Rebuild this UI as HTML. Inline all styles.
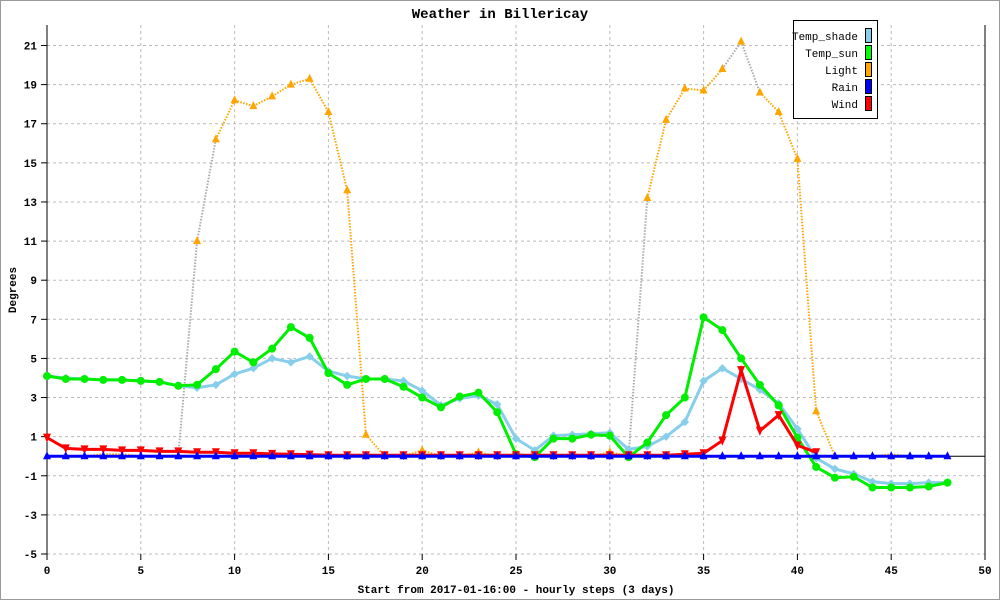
<!DOCTYPE html>
<html><head><meta charset="utf-8"><style>
body{margin:0;background:#fff}
svg{display:block;font-family:"Liberation Mono",monospace}
</style></head><body>
<svg id="chart" width="1000" height="600" viewBox="0 0 1000 600">
<rect x="0.5" y="0.5" width="999" height="599" fill="#fff" stroke="#999"/>
<text x="500" y="18" text-anchor="middle" font-size="14" font-weight="bold">Weather in Billericay</text>
<g id="grid"></g>
<g id="axes"></g>
<g id="series"></g>
<text x="16" y="290" transform="rotate(-90 16 290)" text-anchor="middle" font-size="11" font-weight="bold">Degrees</text>
<text x="516" y="593" text-anchor="middle" font-size="11" font-weight="bold">Start from 2017-01-16:00 - hourly steps (3 days)</text>
<g>
<rect x="793.5" y="20.5" width="84" height="98" fill="#fff" stroke="#000"/>
<g font-size="11" text-anchor="end">
<text x="858" y="40">Temp_shade</text>
<text x="858" y="57">Temp_sun</text>
<text x="858" y="74">Light</text>
<text x="858" y="91">Rain</text>
<text x="858" y="108">Wind</text>
</g>
<rect x="865.5" y="28.5" width="6" height="14" fill="#87ceeb" stroke="#000"/>
<rect x="865.5" y="45.5" width="6" height="14" fill="#00ff00" stroke="#000"/>
<rect x="865.5" y="62.5" width="6" height="14" fill="#ffa500" stroke="#000"/>
<rect x="865.5" y="79.5" width="6" height="14" fill="#0000ff" stroke="#000"/>
<rect x="865.5" y="96.5" width="6" height="14" fill="#ff0000" stroke="#000"/>
</g>
</svg>
<script>
const xTicks=[0,5,10,15,20,25,30,35,40,45,50];
const yTicks=[-5,-3,-1,1,3,5,7,9,11,13,15,17,19,21];
const light=[0,0,0,0.1,0.1,0,0,0.05,11,16.2,18.2,17.9,18.4,19,19.3,17.6,13.6,1.1,0,0,0.3,0,0,0.2,0,0,0,0,0,0,0.2,0,13.2,17.2,18.8,18.7,19.8,21.2,18.6,17.6,15.2,2.3,0,0,0,0.1,0,0,0];
const tempShade=[4.1,4.0,3.95,3.9,3.9,3.85,3.8,3.6,3.5,3.65,4.2,4.5,5.0,4.8,5.1,4.35,4.1,3.95,3.95,3.85,3.35,2.6,2.95,3.1,2.65,0.9,0.3,1.05,1.1,1.15,1.2,0.35,0.5,1.0,1.75,3.85,4.5,3.95,3.4,2.7,1.4,-0.1,-0.65,-0.9,-1.3,-1.4,-1.4,-1.35,-1.35];
const tempSun=[4.1,3.95,3.95,3.9,3.9,3.85,3.8,3.6,3.65,4.45,5.35,4.8,5.5,6.6,6.05,4.25,3.65,3.95,3.95,3.55,3.0,2.5,3.05,3.25,2.25,0.1,-0.05,0.9,0.9,1.1,1.05,-0.05,0.7,2.1,3.0,7.1,6.45,5.0,3.65,2.6,0.95,-0.55,-1.1,-1.05,-1.6,-1.6,-1.6,-1.55,-1.35];
const rain=[0,0,0,0,0,0,0,0,0,0,0,0,0,0,0,0,0,0,0,0,0,0,0,0,0,0,0,0,0,0,0,0,0,0,0,0,0,0,0,0,0,0,0,0,0,0,0,0,0];
const wind=[0.95,0.4,0.35,0.35,0.3,0.3,0.25,0.25,0.2,0.2,0.15,0.15,0.12,0.1,0.08,0.05,0.05,0.05,0.05,0.05,0.05,0.05,0.05,0.05,0.05,0.05,0.05,0.05,0.05,0.05,0.05,0.05,0.05,0.05,0.1,0.15,0.8,4.4,1.3,2.1,0.55,0.2];
const X0=47,X1=985,Y0=554,Y1=45.5,XMIN=0,XMAX=50,YMIN=-5,YMAX=21;
const sx=v=>X0+(v-XMIN)/(XMAX-XMIN)*(X1-X0);
const sy=v=>Y0-(v-YMIN)/(YMAX-YMIN)*(Y0-Y1);
const NS="http://www.w3.org/2000/svg";
function mk(tag,parent,attrs){const e=document.createElementNS(NS,tag);for(const k in attrs)e.setAttribute(k,attrs[k]);parent.appendChild(e);return e;}
const grid=document.getElementById('grid'),axes=document.getElementById('axes'),ser=document.getElementById('series');
xTicks.forEach(t=>{
  if(t>0&&t<50){const g=mk('line',grid,{x1:sx(t),x2:sx(t),y1:25,y2:560,stroke:'#bbb','stroke-dasharray':'3,3'});
  
  }
  const tk=mk('line',axes,{x1:sx(t),x2:sx(t),y1:554,y2:560,stroke:'#000'});
  
  
  const l=mk('text',axes,{x:sx(t),y:574,'text-anchor':'middle','font-size':'11','font-weight':'bold'});l.textContent=t;
  
  
});
yTicks.forEach(t=>{
  const g=mk('line',grid,{x1:X0,x2:X1,y1:sy(t),y2:sy(t),stroke:'#bbb','stroke-dasharray':'3,3'});
  
  
  const tk=mk('line',axes,{x1:41,x2:47,y1:sy(t),y2:sy(t),stroke:'#000'});
  
  
  const l=mk('text',axes,{x:37,y:sy(t)+4,'text-anchor':'end','font-size':'11','font-weight':'bold'});l.textContent=t;
  
  
});
const al=mk('line',axes,{x1:X0,x2:X0,y1:25,y2:560,stroke:'#000'});


const ar=mk('line',axes,{x1:X1,x2:X1,y1:25,y2:560,stroke:'#000'});


const zl=mk('line',axes,{x1:X0,x2:X1,y1:sy(0),y2:sy(0),stroke:'#000'});


// light
const graySeg=[7,8,31,36,37];
for(let i=0;i<light.length-1;i++){
  const s=mk('line',ser,{x1:sx(i),y1:sy(light[i]),x2:sx(i+1),y2:sy(light[i+1]),stroke:graySeg.includes(i)?'#aaa':'#ffa500','stroke-width':2,'stroke-dasharray':'1.5,1.5'});
  
  
}
light.forEach((v,i)=>{if(v>0.15){const x=sx(i),y=sy(v);
  const m=mk('polygon',ser,{points:`${x},${y-5} ${x-4},${y+3} ${x+4},${y+3}`,fill:'#ffa500'});
  
  }});
function line(arr,color,name,w){
  const p=mk('polyline',ser,{points:arr.map((v,i)=>sx(i)+','+sy(v)).join(' '),fill:'none',stroke:color,'stroke-width':w});
  
  
}
line(tempShade,'#87ceeb','temp-shade',3);
tempShade.forEach((v,i)=>{const m=mk('rect',ser,{x:sx(i)-3,y:sy(v)-3,width:6,height:6,fill:'#87ceeb',transform:`rotate(45 ${sx(i)} ${sy(v)})`});
  
  });
line(tempSun,'#00ee00','temp-sun',3);
tempSun.forEach((v,i)=>{const m=mk('circle',ser,{cx:sx(i),cy:sy(v),r:4,fill:'#00ee00'});
  
  });
line(wind,'#ff0000','wind',3);
wind.forEach((v,i)=>{const x=sx(i),y=sy(v);
  const m=mk('polygon',ser,{points:`${x-4},${y-4} ${x+4},${y-4} ${x},${y+5}`,fill:'#ff0000'});
  
  });
line(rain,'#0000ff','rain',3);
rain.forEach((v,i)=>{const x=sx(i),y=sy(v);
  const m=mk('polygon',ser,{points:`${x},${y-5} ${x-4},${y+3} ${x+4},${y+3}`,fill:'#0000ff'});
  
  });
</script>
</body></html>
